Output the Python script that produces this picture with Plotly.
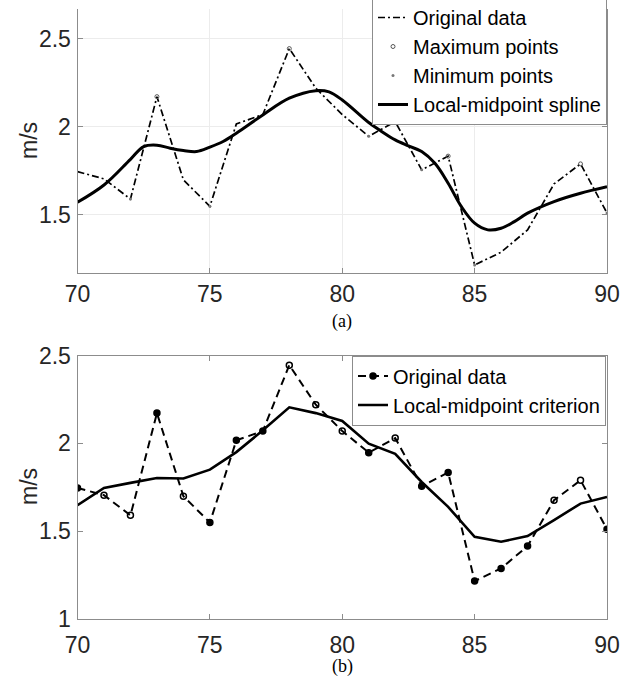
import plotly.graph_objects as go

# ---- data ----
x_orig = list(range(70, 91))
y_orig = [1.746, 1.705, 1.590, 2.172, 1.699, 1.549, 2.017, 2.070, 2.445, 2.220,
          2.070, 1.947, 2.030, 1.756, 1.834, 1.216, 1.288, 1.415, 1.676, 1.790, 1.511]

max_x = [73, 78, 82, 84, 89]
min_x = [72, 75, 81, 83, 85, 90]

spline_x = [70, 71, 72, 72.5, 73, 73.5, 74, 74.5, 75, 75.5, 76, 77, 78, 79, 79.5, 80,
            81, 81.5, 82, 82.5, 83, 83.5, 84, 84.5, 85, 85.5, 86, 86.5, 87, 88, 89, 90]
spline_y = [1.572, 1.670, 1.816, 1.888, 1.896, 1.879, 1.866, 1.860, 1.885, 1.917, 1.964,
            2.068, 2.163, 2.206, 2.199, 2.153, 2.025, 1.973, 1.926, 1.892, 1.860, 1.793,
            1.680, 1.547, 1.453, 1.415, 1.424, 1.462, 1.510, 1.576, 1.623, 1.660]

crit_y = [1.648, 1.746, 1.775, 1.803, 1.800, 1.850, 1.950, 2.074, 2.205, 2.172,
          2.127, 1.998, 1.940, 1.780, 1.638, 1.468, 1.440, 1.472, 1.563, 1.657, 1.695]

filled_x = [70, 73, 75, 76, 77, 81, 83, 84, 85, 86, 87, 90]

xticks = [70, 75, 80, 85, 90]
yticks_a = [1.5, 2, 2.5]
yticks_b = [1, 1.5, 2, 2.5]
ytick_labels_b = ["1", "1.5", "2", "2.5"]

# ---- figure ----
W, H = 620, 678
FONT = "Arial, 'Liberation Sans', sans-serif"
SERIF = "'Times New Roman', 'Liberation Serif', serif"
AXC = "#8c8c8c"
TXT = "#262626"

fig = go.Figure()

# top panel
fig.add_trace(go.Scatter(x=x_orig, y=y_orig, mode="lines", name="Original data",
                         line=dict(color="black", width=1.7, dash="7px,3px,2px,3px"),
                         legend="legend", xaxis="x", yaxis="y"))
fig.add_trace(go.Scatter(x=max_x, y=[y_orig[x_orig.index(v)] for v in max_x],
                         mode="markers", name="Maximum points",
                         marker=dict(symbol="circle-open", size=4, color="#555",
                                     line=dict(width=1, color="#555")),
                         legend="legend", xaxis="x", yaxis="y"))
fig.add_trace(go.Scatter(x=min_x, y=[y_orig[x_orig.index(v)] for v in min_x],
                         mode="markers", name="Minimum points",
                         marker=dict(symbol="circle", size=3, color="#777"),
                         legend="legend", xaxis="x", yaxis="y"))
fig.add_trace(go.Scatter(x=spline_x, y=spline_y, mode="lines", name="Local-midpoint spline",
                         line=dict(color="black", width=3, shape="spline", smoothing=1.0),
                         legend="legend", xaxis="x", yaxis="y"))

# bottom panel
syms = ["circle" if v in filled_x else "circle-open" for v in x_orig]
fig.add_trace(go.Scatter(x=x_orig, y=y_orig, mode="lines+markers", name="Original data",
                         line=dict(color="black", width=2, dash="8px,5px"),
                         marker=dict(symbol=syms, size=6, color="black",
                                     line=dict(width=1.5, color="black")),
                         legend="legend2", xaxis="x2", yaxis="y2"))
fig.add_trace(go.Scatter(x=x_orig, y=crit_y, mode="lines", name="Local-midpoint criterion",
                         line=dict(color="black", width=2.6),
                         legend="legend2", xaxis="x2", yaxis="y2"))

xd = [77.5 / W, 607 / W]
dom_a = [1 - 273 / H, 1 - 9 / H]
dom_b = [1 - 619 / H, 1 - 355.5 / H]

axis_common = dict(showline=True, linecolor=AXC, linewidth=1, ticks="inside", ticklen=5,
                   tickcolor=AXC, tickfont=dict(family=FONT, size=23, color=TXT),
                   zeroline=False, automargin=False)

fig.update_layout(
    width=W, height=H, margin=dict(l=0, r=0, t=0, b=0, autoexpand=False),
    paper_bgcolor="white", plot_bgcolor="white", showlegend=True,
    xaxis=dict(domain=xd, range=[70, 90], tickvals=xticks, anchor="y", mirror=False,
               showgrid=True, gridcolor="#ececec", ticklabelstandoff=0, **axis_common),
    yaxis=dict(domain=dom_a, range=[1.17, 2.67], tickvals=yticks_a, anchor="x",
               mirror="ticks", showgrid=True, gridcolor="#ececec",
               ticklabelstandoff=1, **axis_common),
    xaxis2=dict(domain=xd, range=[70, 90], tickvals=xticks, anchor="y2", mirror="ticks",
                showgrid=False, ticklabelstandoff=5, **axis_common),
    yaxis2=dict(domain=dom_b, range=[1, 2.5], tickvals=yticks_b, ticktext=ytick_labels_b,
                anchor="x2", mirror="ticks", showgrid=False, ticklabelstandoff=1,
                **axis_common),
    legend=dict(x=607 / W, xanchor="right", y=1 + 3 / H, yanchor="top",
                bgcolor="white", bordercolor=AXC, borderwidth=1,
                font=dict(family=FONT, size=20, color="black"),
                itemwidth=30, tracegroupgap=0),
    legend2=dict(x=606 / W, xanchor="right", y=1 - 355.5 / H, yanchor="top",
                 bgcolor="white", bordercolor=AXC, borderwidth=1,
                 font=dict(family=FONT, size=20, color="black"),
                 itemwidth=30, tracegroupgap=0),
    annotations=[
        dict(text="m/s", x=29 / W, y=1 - 141 / H, xref="paper", yref="paper",
             xanchor="center", yanchor="middle",
             showarrow=False, textangle=-90, font=dict(family=FONT, size=23, color=TXT)),
        dict(text="m/s", x=29 / W, y=1 - 487 / H, xref="paper", yref="paper",
             xanchor="center", yanchor="middle",
             showarrow=False, textangle=-90, font=dict(family=FONT, size=23, color=TXT)),
        dict(text="(a)", x=342 / W, y=1 - 322 / H, xref="paper", yref="paper",
             xanchor="center", yanchor="middle",
             showarrow=False, font=dict(family=SERIF, size=18, color="black")),
        dict(text="(b)", x=342 / W, y=1 - 666 / H, xref="paper", yref="paper",
             xanchor="center", yanchor="middle",
             showarrow=False, font=dict(family=SERIF, size=18, color="black")),
    ],
)

fig.write_html("out.html")
